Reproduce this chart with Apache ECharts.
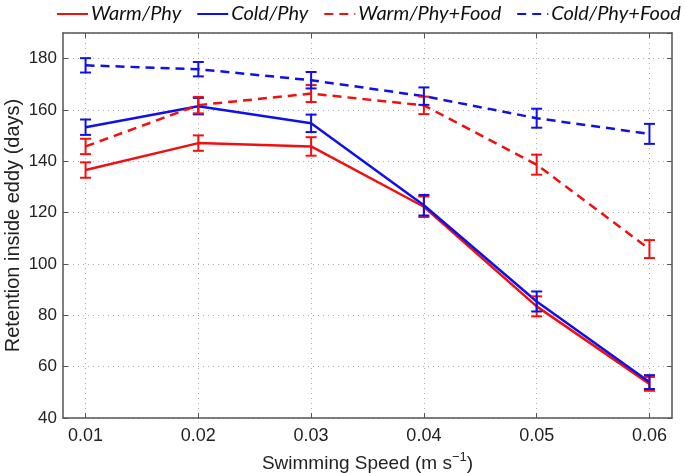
<!DOCTYPE html>
<html>
<head>
<meta charset="utf-8">
<script src="https://cdn.jsdelivr.net/npm/echarts@6/dist/echarts.min.js"></script>
<style>html,body{margin:0;padding:0;background:#fff}#c{width:685px;height:473px}</style>
</head>
<body>
<div id="c"></div>
<script>
const xValues = [0.01, 0.02, 0.03, 0.04, 0.05, 0.06];
const yTicks = [40, 60, 80, 100, 120, 140, 160, 180];
const seriesNames = ['Warm/Phy', 'Cold/Phy', 'Warm/Phy+Food', 'Cold/Phy+Food'];
const warmPhy = [136.6, 147.1, 145.8, 122.3, 83.5, 53.3];
const warmPhyErr = [3.0, 3.0, 3.6, 4.0, 3.9, 2.7];
const coldPhy = [153.3, 161.5, 154.8, 122.9, 85.4, 54.0];
const coldPhyErr = [3.0, 3.2, 3.4, 4.0, 3.9, 2.7];
const warmFood = [145.8, 161.9, 166.4, 161.8, 138.7, 105.8];
const warmFoodErr = [3.0, 3.2, 3.3, 3.4, 3.9, 3.5];
const coldFood = [177.4, 175.9, 171.6, 165.4, 156.8, 150.7];
const coldFoodErr = [2.8, 2.8, 3.2, 3.4, 3.7, 3.9];

const RED = '#f01010';
const BLUE = '#1010e8';
const AXIS = '#555555';
const GRIDC = '#aaaaaa';

const chart = echarts.init(document.getElementById('c'), null, {renderer: 'canvas'});

function lineSeries(name, vals, color, dashed) {
  return {
    name: name, type: 'line', xAxisIndex: 0, yAxisIndex: 0,
    data: xValues.map((x, i) => [x, vals[i]]),
    symbol: 'none', color: color,
    lineStyle: {color: color, width: 2.5, type: dashed ? [9, 6] : 'solid'},
    z: 3
  };
}
function errSeries(name, vals, errs, color) {
  return {
    name: name, type: 'custom', xAxisIndex: 0, yAxisIndex: 0,
    data: xValues.map((x, i) => [x, vals[i] - errs[i], vals[i] + errs[i]]),
    z: 4,
    renderItem: function (params, api) {
      const lo = api.coord([api.value(0), api.value(1)]);
      const hi = api.coord([api.value(0), api.value(2)]);
      const hw = 5.5;
      const st = {stroke: color, lineWidth: 2};
      return {type: 'group', children: [
        {type: 'line', shape: {x1: lo[0], y1: lo[1], x2: hi[0], y2: hi[1]}, style: st},
        {type: 'line', shape: {x1: lo[0] - hw, y1: lo[1], x2: lo[0] + hw, y2: lo[1]}, style: st},
        {type: 'line', shape: {x1: hi[0] - hw, y1: hi[1], x2: hi[0] + hw, y2: hi[1]}, style: st}
      ]};
    }
  };
}

const option = {
  animation: false,
  backgroundColor: '#fff',
  legend: {
    top: 4, left: 56, width: 640, padding: 0,
    itemWidth: 31, itemHeight: 14, itemGap: 15,
    data: seriesNames,
    itemStyle: {opacity: 0},
    textStyle: {fontFamily: 'Lato', fontStyle: 'italic', fontSize: 20, color: '#111', padding: [0, 0, 0, -2]}
  },
  grid: {left: 63, right: 13, top: 33, bottom: 55, containLabel: false, outerBoundsMode: 'none'},
  xAxis: [{
    type: 'value', min: 0.008, max: 0.062, position: 'bottom',
    name: 'Swimming Speed (m s{sup|\u22121})', nameLocation: 'middle', nameGap: 33, nameMoveOverlap: false,
    nameTextStyle: {fontFamily: 'Liberation Sans', fontSize: 19, color: '#222',
      rich: {sup: {fontFamily: 'Liberation Sans', fontSize: 13, color: '#222', padding: [0, 0, 12, 0]}}},
    axisLine: {show: true, lineStyle: {color: AXIS, width: 1.5}},
    axisTick: {show: true, inside: true, length: 5, customValues: xValues, lineStyle: {color: AXIS}},
    axisLabel: {show: true, customValues: xValues, margin: 9, fontFamily: 'Liberation Sans', fontSize: 18, color: '#222', formatter: v => v.toFixed(2)},
    splitLine: {show: true, lineStyle: {color: GRIDC, type: [1, 4], width: 1}}
  }, {
    type: 'value', min: 0.008, max: 0.062, position: 'top',
    axisLine: {show: true, onZero: false, lineStyle: {color: AXIS, width: 1.5}},
    axisTick: {show: true, inside: true, length: 5, customValues: xValues, lineStyle: {color: AXIS}},
    axisLabel: {show: false},
    splitLine: {show: false}
  }],
  yAxis: [{
    type: 'value', min: 40, max: 190, interval: 20, position: 'left',
    name: 'Retention inside eddy (days)', nameLocation: 'middle', nameGap: 40, nameMoveOverlap: false,
    nameTextStyle: {fontFamily: 'Liberation Sans', fontSize: 20, color: '#222'},
    axisLine: {show: true, lineStyle: {color: AXIS, width: 1.5}},
    axisTick: {show: true, inside: true, length: 5, lineStyle: {color: AXIS}},
    axisLabel: {show: true, margin: 6, showMaxLabel: false, fontFamily: 'Liberation Sans', fontSize: 17, color: '#222', formatter: v => yTicks.includes(v) ? String(v) : ''},
    splitLine: {show: true, lineStyle: {color: GRIDC, type: [1, 4], width: 1}}
  }, {
    type: 'value', min: 40, max: 190, interval: 20, position: 'right',
    axisLine: {show: true, onZero: false, lineStyle: {color: AXIS, width: 1.5}},
    axisTick: {show: true, inside: true, length: 5, lineStyle: {color: AXIS}},
    axisLabel: {show: false},
    splitLine: {show: false}
  }],
  series: [
    lineSeries(seriesNames[0], warmPhy, RED, false),
    errSeries(seriesNames[0], warmPhy, warmPhyErr, RED),
    lineSeries(seriesNames[1], coldPhy, BLUE, false),
    errSeries(seriesNames[1], coldPhy, coldPhyErr, BLUE),
    lineSeries(seriesNames[2], warmFood, RED, true),
    errSeries(seriesNames[2], warmFood, warmFoodErr, RED),
    lineSeries(seriesNames[3], coldFood, BLUE, true),
    errSeries(seriesNames[3], coldFood, coldFoodErr, BLUE)
  ]
};
chart.setOption(option);
</script>
</body>
</html>
